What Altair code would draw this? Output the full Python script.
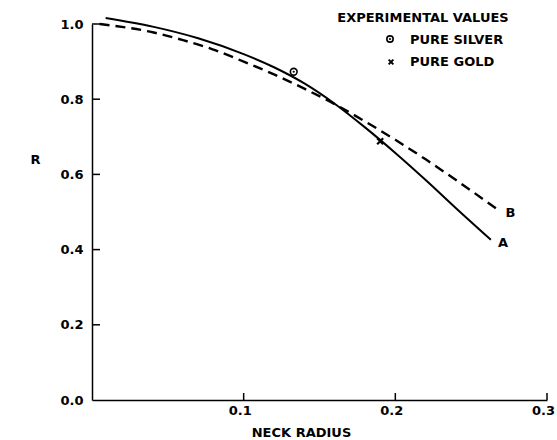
import altair as alt
import pandas as pd

# ---- data ----
a_x = [0.009, 0.04, 0.07, 0.10, 0.12, 0.14, 0.16, 0.18, 0.20, 0.22, 0.24, 0.263]
a_r = [1.016, 0.993, 0.962, 0.92, 0.885, 0.842, 0.788, 0.725, 0.657, 0.585, 0.51, 0.426]
b_x = [0.005, 0.04, 0.06, 0.08, 0.10, 0.12, 0.14, 0.16, 0.18, 0.20, 0.22, 0.24, 0.268]
b_r = [1.0, 0.978, 0.957, 0.932, 0.90, 0.866, 0.828, 0.787, 0.741, 0.692, 0.64, 0.585, 0.505]
silver_x = [0.133]
silver_r = [0.873]
gold_x = [0.190]
gold_r = [0.688]
x_ticks = [0.1, 0.2, 0.3]
y_ticks = [0.0, 0.2, 0.4, 0.6, 0.8, 1.0]
curve_labels = ["A", "B"]
legend_title = ["EXPERIMENTAL VALUES"]
legend_silver = ["PURE SILVER"]
legend_gold = ["PURE GOLD"]

W, H = 455, 376
FONT = "DejaVu Sans"
X_PATH = "M-1,-1L1,1M-1,1L1,-1"

xs = alt.Scale(domain=[0, 0.3], nice=False, zero=False)
ys = alt.Scale(domain=[0, 1.0], nice=False)

dfa = pd.DataFrame({"x": a_x, "r": a_r})
dfb = pd.DataFrame({"x": b_x, "r": b_r})
ends = pd.DataFrame({"x": [a_x[-1], b_x[-1]], "r": [a_r[-1], b_r[-1]], "lab": curve_labels})
silver = pd.DataFrame({"x": silver_x, "r": silver_r})
gold = pd.DataFrame({"x": gold_x, "r": gold_r})
xt = pd.DataFrame({"x": x_ticks})
yt = pd.DataFrame({"r": y_ticks[1:]})

x_axis = alt.Axis(values=x_ticks, format=".1f", ticks=False, tickSize=0, grid=False,
                  domainColor="black", domainWidth=1.5, labelFlush=False, labelOffset=-4,
                  labelFont=FONT, labelFontSize=13, labelFontWeight="bold", labelColor="black",
                  labelPadding=4, title="NECK RADIUS", titleFont=FONT, titleFontSize=13,
                  titleFontWeight="bold", titleColor="black", titleX=209, titleY=32,
                  titleAnchor="start", titleAlign="center", titleBaseline="middle")
y_axis = alt.Axis(values=y_ticks, format=".1f", ticks=False, tickSize=0, grid=False,
                  domainColor="black", domainWidth=1.5,
                  labelFont=FONT, labelFontSize=13, labelFontWeight="bold", labelColor="black",
                  labelPadding=9, labelFlush=False, title="R", titleFont=FONT, titleFontSize=13,
                  titleFontWeight="bold", titleColor="black", titleAngle=0, titleX=-57, titleY=135,
                  titleAlign="center", titleBaseline="middle")

X = alt.X("x:Q", scale=xs, axis=x_axis)
Y = alt.Y("r:Q", scale=ys, axis=y_axis)

line_a = alt.Chart(dfa).mark_line(color="black", strokeWidth=2, interpolate="monotone").encode(x=X, y=Y)
line_b = alt.Chart(dfb).mark_line(color="black", strokeWidth=2.4, strokeDash=[10, 6],
                                  interpolate="monotone").encode(x=X, y=Y)
end_labels = alt.Chart(ends).mark_text(font=FONT, fontSize=13, fontWeight="bold", align="left",
                                       baseline="middle", dx=7, dy=3, color="black").encode(
    x=X, y=Y, text="lab:N")
silver_ring = alt.Chart(silver).mark_point(shape="circle", filled=False, size=45, strokeWidth=1.6,
                                           color="black", opacity=1).encode(x=X, y=Y)
silver_dot = alt.Chart(silver).mark_point(shape="circle", filled=True, size=5, color="black",
                                          opacity=1).encode(x=X, y=Y)
gold_pt = alt.Chart(gold).mark_point(shape=X_PATH, size=36, strokeWidth=2.2, color="black",
                                     opacity=1).encode(x=X, y=Y)

ytick_rules = alt.Chart(yt).mark_rule(color="black", strokeWidth=1.5).encode(
    y=Y, x=alt.value(0), x2=alt.value(8))
xtick_rules = alt.Chart(xt).mark_rule(color="black", strokeWidth=1.5).encode(
    x=X, y=alt.value(H), y2=alt.value(H - 7))

txt = dict(font=FONT, fontSize=13, fontWeight="bold", color="black", baseline="middle")
leg_title = alt.Chart(pd.DataFrame({"t": legend_title})).mark_text(align="center", **txt).encode(
    x=alt.value(331), y=alt.value(-6), text="t:N")
leg_s = alt.Chart(pd.DataFrame({"t": legend_silver})).mark_text(align="left", **txt).encode(
    x=alt.value(318), y=alt.value(16), text="t:N")
leg_g = alt.Chart(pd.DataFrame({"t": legend_gold})).mark_text(align="left", **txt).encode(
    x=alt.value(318), y=alt.value(38), text="t:N")
leg_s_ring = alt.Chart(pd.DataFrame({"t": legend_silver})).mark_point(
    shape="circle", filled=False, size=40, strokeWidth=1.6, color="black", opacity=1).encode(
    x=alt.value(298), y=alt.value(15))
leg_s_dot = alt.Chart(pd.DataFrame({"t": legend_silver})).mark_point(
    shape="circle", filled=True, size=5, color="black", opacity=1).encode(
    x=alt.value(298), y=alt.value(15))
leg_g_x = alt.Chart(pd.DataFrame({"t": legend_gold})).mark_point(
    shape=X_PATH, size=22, strokeWidth=2, color="black", opacity=1).encode(
    x=alt.value(299), y=alt.value(38))

chart = alt.layer(
    line_a, line_b, end_labels, silver_ring, silver_dot, gold_pt,
    ytick_rules, xtick_rules, leg_title, leg_s, leg_g, leg_s_ring, leg_s_dot, leg_g_x,
).properties(
    width=W, height=H,
    autosize=alt.AutoSizeParams(type="none"),
    padding={"left": 92, "top": 24, "right": 10, "bottom": 40},
    background="white",
).configure_view(stroke=None)

chart.save("out.html", embed_options={"renderer": "svg", "actions": False})
